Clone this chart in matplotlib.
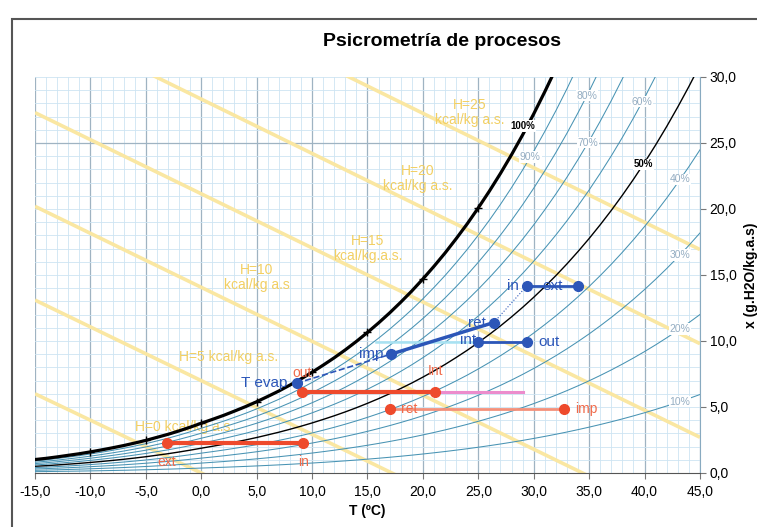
import numpy as np
import matplotlib.pyplot as plt
from matplotlib.patches import Rectangle

plt.rcParams['font.family'] = ['Liberation Sans', 'DejaVu Sans']

# Saturation curve (g H2O / kg dry air), one value per degree
t_sat = np.arange(-15, 46)
x_sat = np.array([1.02, 1.11, 1.22, 1.34, 1.46, 1.60, 1.75, 1.91, 2.08, 2.27,
                  2.47, 2.70, 2.93, 3.19, 3.47, 3.77, 4.06, 4.36, 4.69, 5.03,
                  5.40, 5.80, 6.21, 6.66, 7.13, 7.63, 8.17, 8.73, 9.33, 9.97,
                  10.65, 11.37, 12.13, 12.94, 13.79, 14.70, 15.66, 16.67, 17.75, 18.88,
                  20.09, 21.36, 22.70, 24.12, 25.62, 27.21, 28.89, 30.65, 32.52, 34.50,
                  36.58, 38.79, 41.11, 43.57, 46.16, 48.89, 51.78, 54.83, 58.06, 61.46,
                  65.06])
rh_levels = [10, 20, 30, 40, 50, 60, 70, 80, 90]
sat_marks = [-10, -5, 0, 5, 10, 15, 20, 25]

# Enthalpy lines: temperature where x=0, and x at T=-15
h_values = [0, 5, 10, 15, 20, 25]
h_t0 = [0.0, 17.2, 34.4, 51.6, 68.8, 86.0]
h_xleft = [6.0, 13.1, 20.2, 27.3, 34.5, 41.7]

# Process points (T, x)
blue_evap = (8.6, 6.8)
blue_imp = (17.1, 9.0)
blue_ret = (26.4, 11.4)
blue_int = (25.0, 9.9)
blue_out = (29.4, 9.9)
blue_in = (29.4, 14.2)
blue_ext = (34.0, 14.2)
cyan_start = (15.8, 9.9)

red_ext = (-3.1, 2.3)
red_in = (9.2, 2.3)
red_out = (9.1, 6.1)
red_int = (21.1, 6.1)
pink_end = (29.0, 6.1)
red_ret = (17.0, 4.85)
red_imp = (32.7, 4.85)

P = 101.325
ps = P * x_sat / (622 + x_sat)

fig = plt.figure(figsize=(7.57, 5.27), dpi=100)
fig.patches.append(Rectangle((12 / 757, -0.1), 1.2, 1.1 - 19 / 527, transform=fig.transFigure,
                             fill=False, edgecolor='#555555', linewidth=1.5, zorder=0))
ax = fig.add_axes([35 / 757, 1 - 473 / 527, 665 / 757, 396 / 527])

ax.set_xlim(-15, 45)
ax.set_ylim(0, 30)

# grid
for v in range(-15, 46):
    major = v % 5 == 0
    ax.axvline(v, color='#9fb3c2' if major else '#cde4f2', lw=0.9 if major else 0.6, zorder=0)
for v in range(0, 31):
    major = v == 25
    ax.axhline(v, color='#9fb3c2' if major else '#cde4f2', lw=0.9 if major else 0.6, zorder=0)

# enthalpy lines
tt = np.array([-15, 45])
for h, t0, xl in zip(h_values, h_t0, h_xleft):
    slope = xl / (t0 + 15)
    ax.plot(tt, slope * (t0 - tt), color='#fae7a2', lw=2.6, zorder=1, solid_capstyle='butt')

ytxt = '#f2cf62'
ax.text(-1.5, 3.5, 'H=0 kcal/kg a.s.', color=ytxt, fontsize=10, ha='center', va='center', zorder=2)
ax.text(2.5, 8.8, 'H=5 kcal/kg a.s.', color=ytxt, fontsize=10, ha='center', va='center', zorder=2)
ax.text(5.0, 14.8, 'H=10\nkcal/kg a.s', color=ytxt, fontsize=10, ha='center', va='center',
        linespacing=1.1, zorder=2)
ax.text(15.0, 17.0, 'H=15\nkcal/kg.a.s.', color=ytxt, fontsize=10, ha='center', va='center',
        linespacing=1.1, zorder=2)
ax.text(19.5, 22.3, 'H=20\nkcal/kg a.s.', color=ytxt, fontsize=10, ha='center', va='center',
        linespacing=1.1, zorder=2)
ax.text(24.2, 27.3, 'H=25\nkcal/kg a.s.', color=ytxt, fontsize=10, ha='center', va='center',
        linespacing=1.1, zorder=2)

# relative humidity curves
rh_label_t = {10: 43.2, 20: 43.2, 30: 43.2, 40: 43.2, 50: 39.9, 60: 39.8, 70: 34.9, 80: 34.8, 90: 29.7}
for rh in rh_levels:
    phi = rh / 100
    xc = 622 * phi * ps / (P - phi * ps)
    if rh == 50:
        ax.plot(t_sat, xc, color='black', lw=1.0, zorder=3)
    else:
        ax.plot(t_sat, xc, color='#4893b3', lw=0.75, zorder=3)
    tl = rh_label_t[rh]
    xl = np.interp(tl, t_sat, xc)
    if rh == 50:
        ax.text(tl, xl, '50%', fontsize=7, fontweight='bold', color='black', ha='center', va='center',
                bbox=dict(facecolor='white', edgecolor='none', pad=0.5), zorder=4)
    else:
        ax.text(tl, xl, f'{rh}%', fontsize=7.5, color='#94adc2', ha='center', va='center',
                bbox=dict(facecolor='white', edgecolor='none', pad=0.5), zorder=4)

ax.plot(t_sat, x_sat, color='black', lw=2.3, zorder=5)
ax.plot(sat_marks, np.interp(sat_marks, t_sat, x_sat), '+', color='black', ms=6, mew=1, zorder=5)
ax.text(29.0, 26.3, '100%', fontsize=7, fontweight='bold', color='black', ha='center', va='center',
        bbox=dict(facecolor='white', edgecolor='none', pad=0.5), zorder=6)

# red process
red = '#ee4a2c'
ax.plot([red_ext[0], red_in[0]], [red_ext[1], red_in[1]], color=red, lw=3, marker='o', ms=7, zorder=7)
ax.plot([red_int[0], pink_end[0]], [red_int[1], pink_end[1]], color='#ec8ccc', lw=2.2, zorder=6)
ax.plot([red_out[0], red_int[0]], [red_out[1], red_int[1]], color=red, lw=3, marker='o', ms=7, zorder=7)
ax.plot([red_ret[0], red_imp[0]], [red_ret[1], red_imp[1]], color='#f4907a', lw=2, zorder=6)
ax.plot([red_ret[0], red_imp[0]], [red_ret[1], red_imp[1]], 'o', color=red, ms=7, zorder=7)
rtxt = '#f06a4a'
ax.text(red_ext[0], red_ext[1] - 1.5, 'ext', color=rtxt, fontsize=10, ha='center', va='center', zorder=8)
ax.text(red_in[0], red_in[1] - 1.5, 'in', color=rtxt, fontsize=10, ha='center', va='center', zorder=8)
ax.text(red_out[0], red_out[1] + 1.5, 'out', color=rtxt, fontsize=10, ha='center', va='center', zorder=8)
ax.text(red_int[0], red_int[1] + 1.6, 'Int', color=rtxt, fontsize=10, ha='center', va='center', zorder=8)
ax.text(red_ret[0] + 1.0, red_ret[1], 'ret', color=rtxt, fontsize=10, ha='left', va='center', zorder=8)
ax.text(red_imp[0] + 1.0, red_imp[1], 'imp', color=rtxt, fontsize=10, ha='left', va='center', zorder=8)

# blue process
blue = '#2c56b8'
ax.plot([cyan_start[0], blue_int[0]], [cyan_start[1], blue_int[1]], color='#a8e2f2', lw=1.8, zorder=6)
ax.plot([blue_evap[0], blue_imp[0]], [blue_evap[1], blue_imp[1]], color=blue, lw=1.2, ls='--', zorder=7)
ax.plot([blue_imp[0], blue_ret[0]], [blue_imp[1], blue_ret[1]], color=blue, lw=2.5, zorder=7)
ax.plot([blue_ret[0], blue_in[0]], [blue_ret[1], blue_in[1]], color=blue, lw=0.8, ls=':', zorder=7)
ax.plot([blue_int[0], blue_out[0]], [blue_int[1], blue_out[1]], color=blue, lw=2, zorder=7)
ax.plot([blue_in[0], blue_ext[0]], [blue_in[1], blue_ext[1]], color=blue, lw=2, zorder=7)
for p in [blue_evap, blue_imp, blue_ret, blue_int, blue_out, blue_in, blue_ext]:
    ax.plot(p[0], p[1], 'o', color=blue, ms=7, zorder=8)
ax.text(blue_evap[0] - 0.8, blue_evap[1], 'T evap', color=blue, fontsize=11, ha='right', va='center', zorder=9)
ax.text(blue_imp[0] - 0.7, blue_imp[1], 'imp', color=blue, fontsize=11, ha='right', va='center', zorder=9)
ax.text(blue_ret[0] - 0.7, blue_ret[1], 'ret', color=blue, fontsize=11, ha='right', va='center', zorder=9)
ax.text(blue_int[0] - 0.2, blue_int[1] + 0.2, 'int', color=blue, fontsize=11, ha='right', va='center', zorder=9)
ax.text(blue_out[0] + 1.0, blue_out[1], 'out', color=blue, fontsize=11, ha='left', va='center', zorder=9)
ax.text(blue_in[0] - 0.7, blue_in[1], 'in', color=blue, fontsize=11, ha='right', va='center', zorder=9)
ax.text((blue_in[0] + blue_ext[0]) / 2, blue_ext[1], 'ext', color=blue, fontsize=11, ha='center',
        va='center', zorder=9)

# axes
xt = np.arange(-15, 46, 5)
yt = np.arange(0, 31, 5)
ax.set_xticks(xt)
ax.set_xticklabels([f'{v:.1f}'.replace('.', ',') for v in xt], fontsize=10)
ax.yaxis.tick_right()
ax.yaxis.set_label_position('right')
ax.set_yticks(yt)
ax.set_yticklabels([f'{v:.1f}'.replace('.', ',') for v in yt], fontsize=10)
ax.tick_params(axis='x', length=4, color='#777777', pad=5)
ax.tick_params(axis='y', length=4, color='#777777', pad=3)
for s in ['top', 'left']:
    ax.spines[s].set_visible(False)
ax.spines['bottom'].set_color('#555555')
ax.spines['right'].set_color('#88aac0')
ax.set_xlabel('T (ºC)', fontsize=10, fontweight='bold', labelpad=3)
ax.set_ylabel('x (g.H2O/kg.a.s)', fontsize=10, fontweight='bold', rotation=90, labelpad=5)

fig.text(442 / 757, 1 - 42 / 527, 'Psicrometría de procesos', fontsize=14, fontweight='bold',
         ha='center', va='center')

fig.savefig('out.png', dpi=100)
